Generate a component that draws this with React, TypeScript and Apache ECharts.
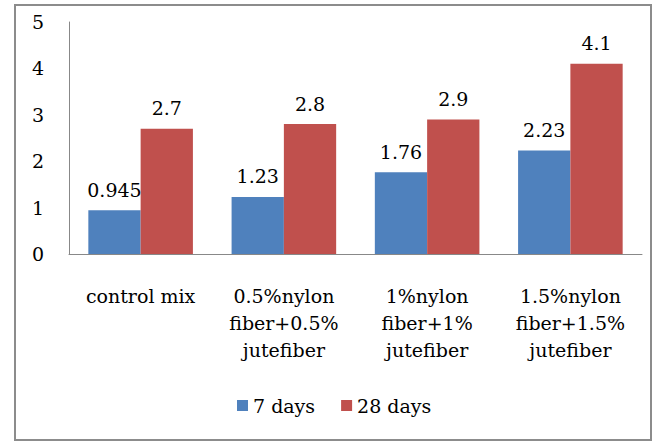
import React, { useEffect, useRef } from "react";
import * as echarts from "echarts";

const categories = [
  "control mix",
  "0.5%nylon\nfiber+0.5%\njutefiber",
  "1%nylon\nfiber+1%\njutefiber",
  "1.5%nylon\nfiber+1.5%\njutefiber",
];
const days7 = [0.945, 1.23, 1.76, 2.23];
const days28 = [2.7, 2.8, 2.9, 4.1];
const seriesNames = ["7 days", "28 days"];

const FONT = "DejaVu Serif";
const FS = 19;

export default function App() {
  const ref = useRef<HTMLDivElement>(null);
  useEffect(() => {
    const chart = echarts.init(ref.current!, null, { renderer: "svg" });
    const label = {
      show: true,
      position: "top",
      color: "#000",
      fontFamily: FONT,
      fontSize: FS,
      distance: 11,
    };
    chart.setOption({
      animation: false,
      backgroundColor: "#fff",
      graphic: [
        {
          type: "rect",
          shape: { x: 15, y: 5, width: 636, height: 435 },
          style: { fill: "none", stroke: "#8c8c8c", lineWidth: 2 },
          silent: true,
        },
      ],
      grid: { left: 69, right: 15, top: 22, bottom: 189, containLabel: false },
      legend: {
        bottom: 23,
        left: 232,
        itemWidth: 11,
        itemHeight: 11,
        itemGap: 26,
        icon: "rect",
        textStyle: { fontFamily: FONT, fontSize: FS, color: "#000" },
        data: seriesNames,
      },
      xAxis: {
        type: "category",
        data: categories,
        axisLine: { lineStyle: { color: "#888", width: 1 } },
        axisTick: { show: false },
        axisLabel: {
          interval: 0,
          fontFamily: FONT,
          fontSize: FS,
          color: "#000",
          lineHeight: 27,
          margin: 28,
        },
      },
      yAxis: {
        type: "value",
        min: 0,
        max: 5,
        interval: 1,
        axisLine: { show: true, lineStyle: { color: "#888", width: 1 } },
        axisTick: { show: false },
        splitLine: { show: false },
        axisLabel: {
          fontFamily: FONT,
          fontSize: FS,
          color: "#000",
          margin: 25,
        },
      },
      series: [
        {
          name: seriesNames[0],
          type: "bar",
          data: days7,
          barWidth: "36.5%",
          barGap: "0%",
          itemStyle: { color: "#4F81BD" },
          label,
        },
        {
          name: seriesNames[1],
          type: "bar",
          data: days28,
          barWidth: "36.5%",
          barGap: "0%",
          itemStyle: { color: "#C0504D" },
          label,
        },
      ],
    });
    return () => chart.dispose();
  }, []);
  return (
    <div
      ref={ref}
      style={{ position: "fixed", left: 0, top: 0, width: 657, height: 443 }}
    />
  );
}
